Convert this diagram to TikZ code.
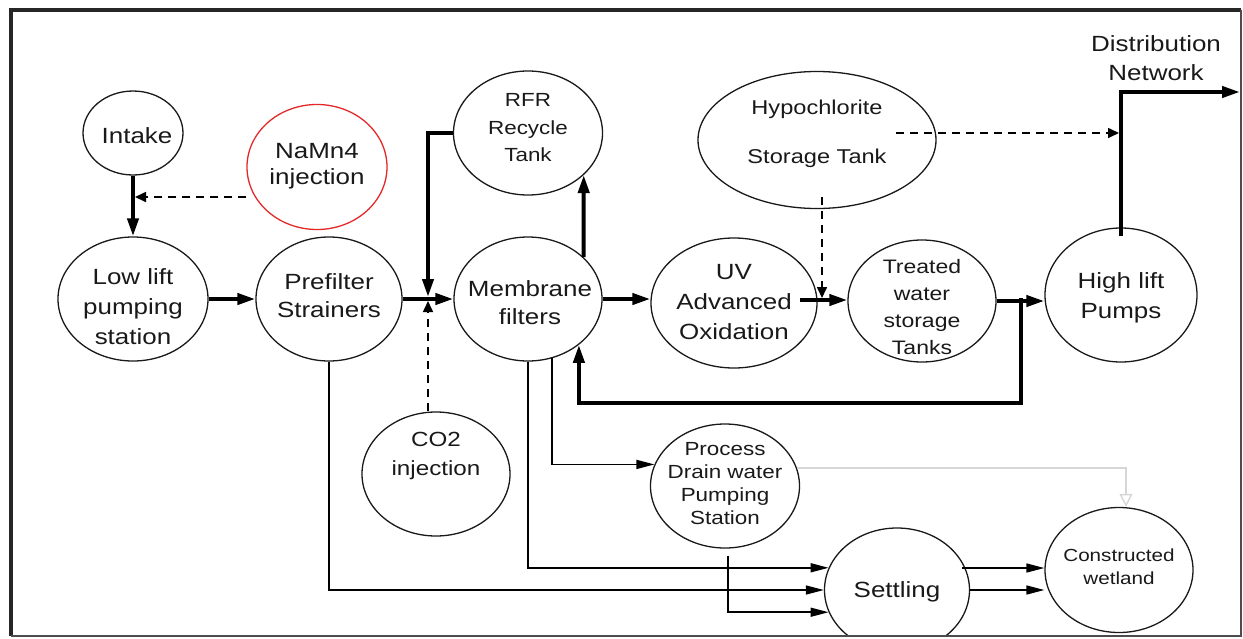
\documentclass[tikz,border=0pt]{standalone}
\usepackage{fontspec}
\setmainfont{Liberation Sans}[FakeStretch=1.18]
\usetikzlibrary{arrows.meta,shapes.geometric,calc}
\definecolor{nared}{RGB}{228,40,40}
\begin{document}
\begin{tikzpicture}[x=1pt,y=-1pt,
  bub/.style={draw=black!90, ellipse, line width=1.3pt, inner sep=0pt},
  tx/.style={align=center, text=black!90, inner sep=0pt},
  fA/.style={font=\fontsize{22}{30}\selectfont},
  fB/.style={font=\fontsize{22}{28}\selectfont},
  thk/.style={line width=4pt, -{Triangle[length=18pt,width=11pt]}},
  thn/.style={line width=1.5pt, -{Triangle[length=18pt,width=9pt]}},
  dsh/.style={line width=1.6pt, dash pattern=on 8pt off 6pt, -{Triangle[length=11pt,width=10pt]}},
  lightarr/.style={line width=1.4pt, draw=black!16, -{Triangle[open,length=13pt,width=13pt]}}
]
\useasboundingbox (0,0) rectangle (1243,638);
\begin{scope}
\clip (12,11) rectangle (1240.5,635.5);

% shapes
\node[bub, minimum width=100pt, minimum height=84pt] (intake) at (133,133) {};
\node[bub, draw=nared, minimum width=140pt, minimum height=125pt] (namn) at (317,167) {};
\node[bub, minimum width=150pt, minimum height=124pt] (low) at (133,299) {};
\node[bub, minimum width=146pt, minimum height=124pt] (pre) at (329,299) {};
\node[bub, minimum width=148pt, minimum height=124pt] (mem) at (528,299) {};
\node[bub, minimum width=149pt, minimum height=124pt] (rfr) at (528,133) {};
\node[bub, minimum width=166pt, minimum height=130pt] (uv) at (734,303) {};
\node[bub, minimum width=238pt, minimum height=137pt] (hypo) at (817,140) {};
\node[bub, minimum width=148pt, minimum height=122pt] (tr) at (922,301) {};
\node[bub, minimum width=152pt, minimum height=134pt] (hl) at (1121,295) {};
\node[bub, minimum width=148pt, minimum height=124pt] (co2) at (436,474) {};
\node[bub, minimum width=149pt, minimum height=124pt] (proc) at (725,486) {};
\node[bub, minimum width=145pt, minimum height=124pt] (set) at (897,590) {};
\node[bub, minimum width=148pt, minimum height=125pt] (cw) at (1119,570) {};

% texts
\node[tx, fA] (intaket) at (137,136) {Intake};
\node[tx, font=\fontsize{22}{26}\selectfont] (namnt) at (317,166) {NaMn4\\injection};
\node[tx, fA] (lowt) at (133,307) {Low lift\\pumping\\station};
\node[tx, fB] (pret) at (329,296) {Prefilter\\Strainers};
\node[tx, fB] (memt) at (530,303) {Membrane\\filters};
\node[tx, font=\fontsize{19}{27.5}\selectfont] (rfrt) at (528,128) {RFR\\Recycle\\Tank};
\node[tx, fA] (uvt) at (734,302) {UV\\Advanced\\Oxidation};
\node[tx, font=\fontsize{20}{24}\selectfont] (hypot) at (817,134) {Hypochlorite\\[25pt]Storage Tank};
\node[tx, font=\fontsize{19.5}{26.7}\selectfont] (trt) at (922,307) {Treated\\water\\storage\\Tanks};
\node[tx, fA] (hlt) at (1121,298) {High lift\\Pumps};
\node[tx, font=\fontsize{20.5}{29}\selectfont] (co2t) at (436,456) {CO2\\injection};
\node[tx, font=\fontsize{19}{23}\selectfont] (proct) at (725,484) {Process\\Drain water\\Pumping\\Station};
\node[tx, fA] (sett) at (897,592) {Settling};
\node[tx, font=\fontsize{17.5}{23}\selectfont] (cwt) at (1119,567) {Constructed\\wetland};
\node[tx, font=\fontsize{22}{29}\selectfont] (distt) at (1156,58) {Distribution\\Network};

% junction coordinates
\coordinate (jna) at (135,197);
\coordinate (jn) at (428,299);
\coordinate (uvo) at (800,300);
\coordinate (hs) at (822,197);
\coordinate (jh) at (822,298);
\coordinate (hd) at (896,133);
\coordinate (jd) at (1119,133);
\coordinate (dn) at (1240,92);
\coordinate (j5) at (1021,298);
\coordinate (fb) at (1021,403);
\coordinate (s1) at (962,568);

% main flow
\draw[thk] (intake.south) -- (low.north);
\draw[dsh] (namn.west |- jna) -- (jna);
\draw[thk] (low.east) -- (pre.west);
\draw[thk] (pre.east) -- (mem.west);
\draw[thk] (rfr.west) -| ([yshift=2pt]jn);
\draw[dsh] (co2.north -| jn) -- ([yshift=-2pt]jn);
\draw[thk] (mem.37) -- (rfr.-37);
\draw[thk] (mem.east) -- (mem.east -| uv.west);
\draw[thk] (uvo) -- (uvo -| tr.west);
\draw[dsh] (hs) -- (jh);
\draw[dsh] (hd) -- (jd);
\draw[thk] ([yshift=-9pt]hl.north) |- (dn);
\draw[thk] (tr.east) -- (tr.east -| hl.west);
\draw[thk] (j5) -- (fb) -| (mem.-42);

% drains
\draw[thn] (mem.-68) |- (proc.163);
\draw[thn] (mem.south) |- (set.162);
\draw[thn] (pre.south) |- (set.west);
\draw[thn] ([xshift=3pt,yshift=-7pt]proc.south) |- (set.198);
\draw[thn] (s1) -- (s1 -| cw.west);
\draw[thn] (set.east) -- (set.east -| cw.west);
\draw[lightarr] (proc.14) -| ([xshift=7pt]cw.north);
\end{scope}

% frame
\draw[line width=4pt, black!85] (10.5,636) -- (10.5,9.5) -- (1241,9.5);
\draw[line width=1.5pt, black!70] (1241,9.5) -- (1241,636) -- (10.5,636);
\end{tikzpicture}
\end{document}
